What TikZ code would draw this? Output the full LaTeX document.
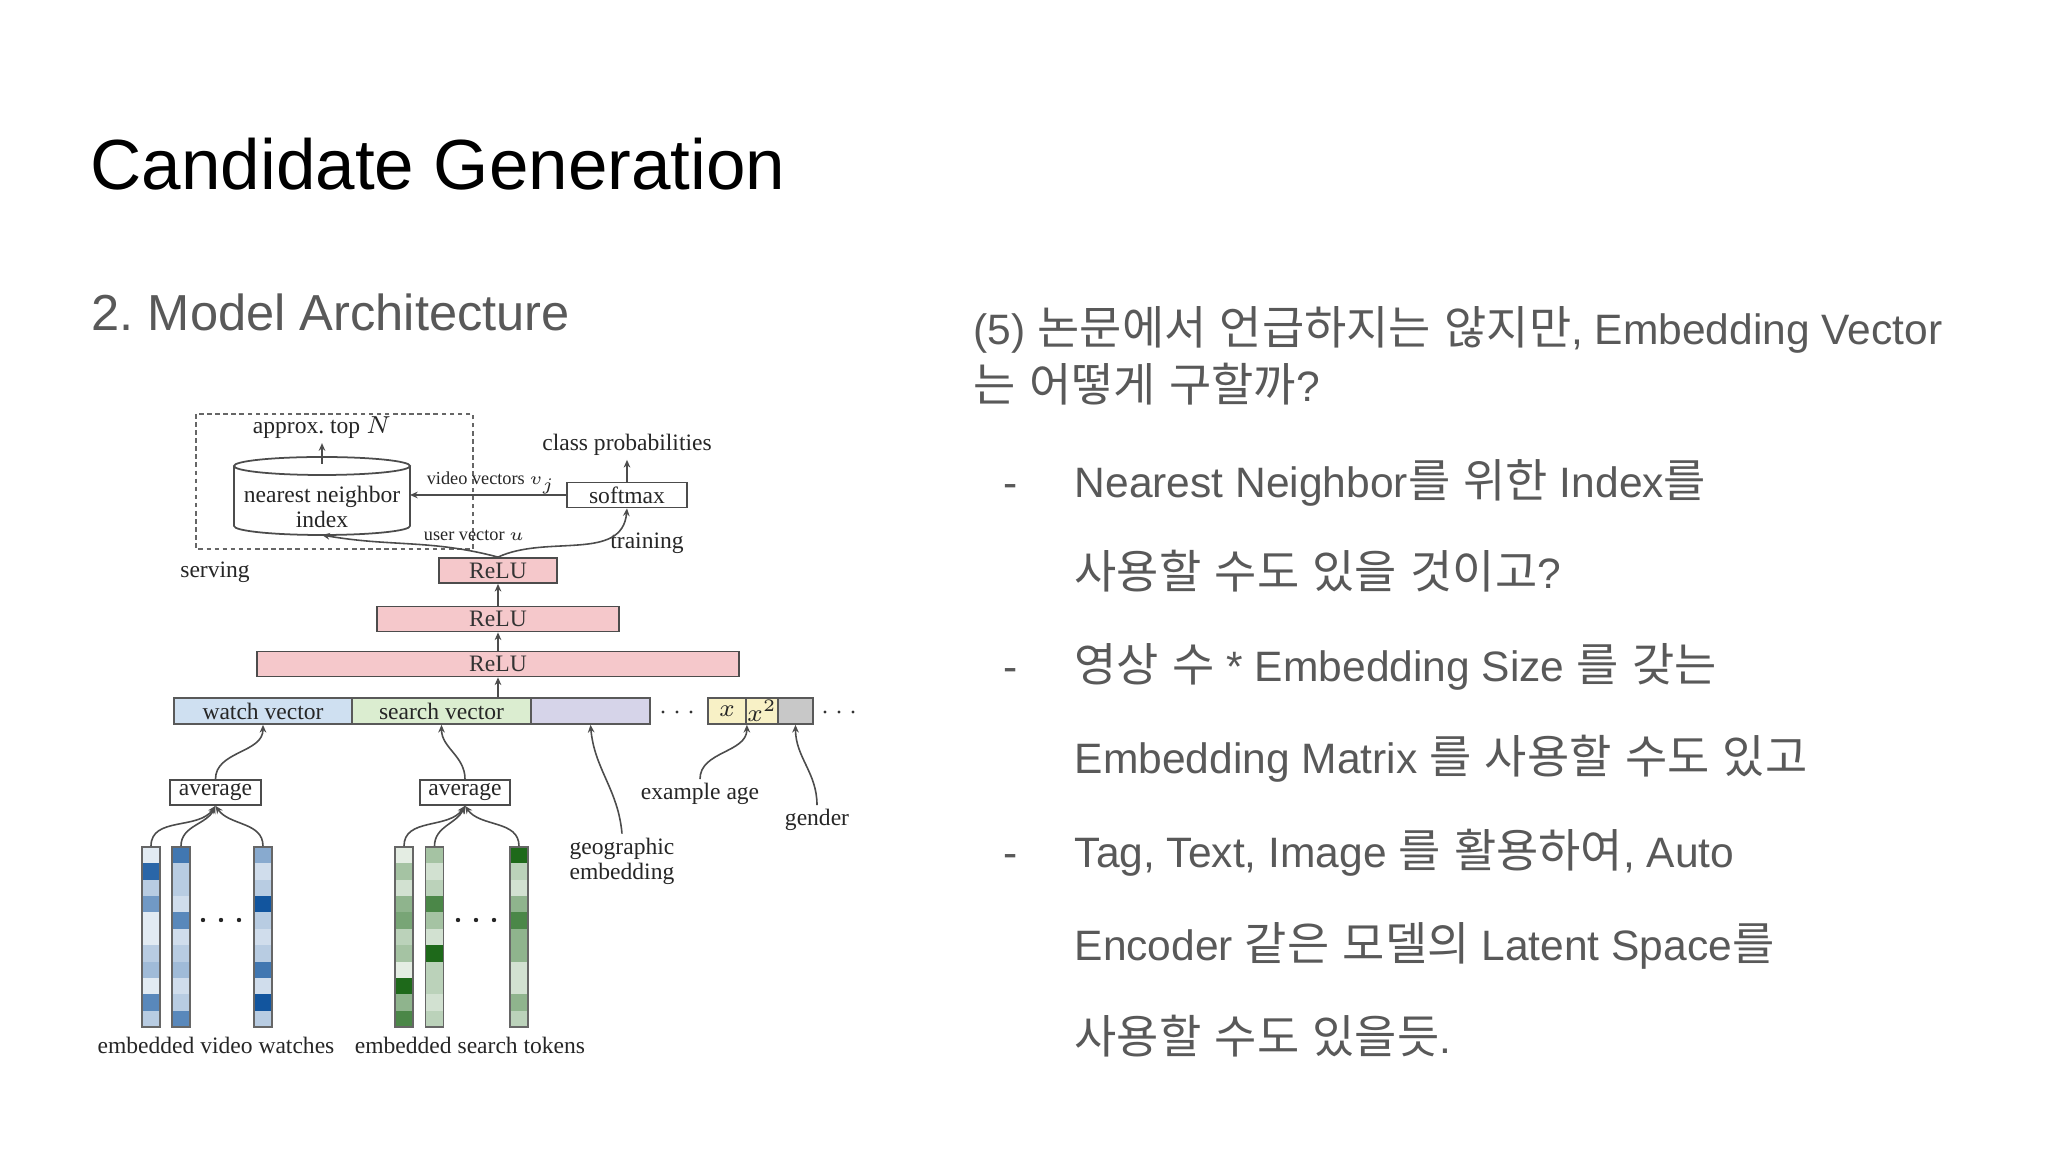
\documentclass[tikz,border=0pt]{standalone}
\usepackage{fontspec}
\newfontfamily\slide{Liberation Sans}
\newfontfamily\kr[Scale=1.08, WordSpace=1.3]{Noto Sans CJK KR}
\newfontfamily\diagserif{Liberation Serif}
\usetikzlibrary{arrows.meta}
\frenchspacing

\definecolor{txtgray}{RGB}{89,89,89}
\definecolor{relupink}{RGB}{245,200,203}
\definecolor{watchblue}{RGB}{207,224,241}
\definecolor{searchgreen}{RGB}{219,237,208}
\definecolor{geolilac}{RGB}{214,212,233}
\definecolor{ageyellow}{RGB}{248,241,198}
\definecolor{gendergray}{RGB}{200,200,200}
\definecolor{vblue}{RGB}{18,85,158}
\definecolor{vgreen}{RGB}{30,105,26}

\newcommand{\diagfont}{\diagserif\fontsize{6.7}{7.1}\selectfont}
\newcommand{\tinyfont}{\diagserif\fontsize{5.2}{6}\selectfont}

\tikzset{
	slidetitle/.style={anchor=base west, inner sep=0pt, font=\slide\fontsize{20.2}{24}\selectfont},
	slidesub/.style={anchor=base west, inner sep=0pt, text=txtgray, font=\slide\fontsize{14.4}{17}\selectfont},
	slidetxt/.style={anchor=base west, inner sep=0pt, text=txtgray, font=\slide\fontsize{12.1}{14.5}\selectfont},
	lbl/.style={inner sep=1pt, text=black!85, font=\diagfont},
	tinylbl/.style={inner sep=0.5pt, text=black!85, font=\tinyfont},
	relubox/.style={draw=black!70, fill=relupink, line width=0.5pt, inner sep=0pt, minimum height=0.25cm, text=black!80, font=\diagfont},
	vecbox/.style={draw=black!65, line width=0.5pt, inner sep=0pt, minimum height=0.26cm, text=black!85, font=\diagfont},
	plainbox/.style={draw=black!70, fill=white, line width=0.5pt, inner sep=0pt, minimum height=0.25cm, text=black!85, font=\diagfont},
	embbar/.style={draw=black!60, line width=0.5pt, inner sep=0pt, minimum width=0.18cm, minimum height=1.8cm},
	diagline/.style={black!70, line width=0.5pt},
	link/.style={black!70, line width=0.45pt, -{Stealth[length=2.2pt,width=1.9pt]}}
}

\begin{document}
\begin{tikzpicture}[x=0.1mm, y=0.1mm]
	\useasboundingbox (0,0) rectangle (2048,-1152);
	\fill[white] (0,0) rectangle (2048,-1152);

% slide text
	\node[slidetitle] (title) at (90,-190) {Candidate Generation};
	\node[slidesub] (sub) at (91,-331) {2. Model Architecture};

	\node[slidetxt] (q1) at (973,-345) {(5) {\kr 논문에서 언급하지는 않지만}, Embedding Vector};
	\node[slidetxt] (q2) at (973,-402) {{\kr 는 어떻게 구할까}?};

	\node[slidetxt] (d1) at (1003,-498) {-};
	\node[slidetxt] (b1) at (1074,-498) {Nearest Neighbor{\kr 를 위한} Index{\kr 를}};
	\node[slidetxt] (b1b) at (1074,-589) {{\kr 사용할 수도 있을 것이고}?};
	\node[slidetxt] (d2) at (1003,-682) {-};
	\node[slidetxt] (b2) at (1074,-682) {{\kr 영상 수} * Embedding Size {\kr 를 갖는}};
	\node[slidetxt] (b2b) at (1074,-774) {Embedding Matrix {\kr 를 사용할 수도 있고}};
	\node[slidetxt] (d3) at (1003,-868) {-};
	\node[slidetxt] (b3) at (1074,-868) {Tag, Text, Image {\kr 를 활용하여}, Auto};
	\node[slidetxt] (b3b) at (1074,-961) {Encoder {\kr 같은 모델의} Latent Space{\kr 를}};
	\node[slidetxt] (b3c) at (1074,-1054) {{\kr 사용할 수도 있을듯}.};

% serving box + index
	\draw[dashed, black!60, line width=0.45pt, dash pattern=on 1.3pt off 1pt] (196,-414) rectangle (473,-549);

	\draw[diagline] (234,-466) -- (234,-526) arc [start angle=180, end angle=360, x radius=88, y radius=9] -- (410,-466);
	\draw[diagline] (322,-466) ellipse [x radius=88, y radius=9];
	\node[lbl, align=center] (nnidx) at (322,-507) {nearest neighbor\\index};
	\coordinate (cyltop) at (322,-464);
	\coordinate (cylbot) at (322,-535);
	\coordinate (cylright) at (410,-495);

	\node[lbl] (topn) at (322,-428) {approx. top $N$};
	\node[lbl] (classp) at (627,-445) {class probabilities};
	\node[plainbox, minimum width=1.2cm] (softmax) at (627,-495) {softmax};
	\node[tinylbl] (vvec) at (491,-483) {video vectors $v_j$};
	\node[tinylbl] (uvec) at (474,-535) {user vector $u$};
	\node[lbl] (train) at (647,-543) {training};
	\node[lbl] (serve) at (215,-572) {serving};

% hidden layers
	\node[relubox, minimum width=1.18cm] (relu1) at (498,-570.5) {ReLU};
	\node[relubox, minimum width=2.42cm] (relu2) at (498,-619) {ReLU};
	\node[relubox, minimum width=4.82cm] (relu3) at (498,-664) {ReLU};

% input vector
	\node[vecbox, fill=watchblue, minimum width=1.78cm] (watch) at (263,-711) {watch vector};
	\node[vecbox, fill=searchgreen, minimum width=1.79cm] (search) at (441.5,-711) {search vector};
	\node[vecbox, fill=geolilac, minimum width=1.19cm] (geo) at (590.5,-711) {};
	\node[vecbox, fill=ageyellow, minimum width=0.38cm] (agex) at (727,-711) {$x$};
	\node[vecbox, fill=ageyellow, minimum width=0.32cm] (agex2) at (762,-711) {$x^2$};
	\node[vecbox, fill=gendergray, minimum width=0.35cm] (gend) at (795.5,-711) {};
	\foreach \d in {663,677,691,825,839,853}
		\fill[black!80] (\d,-712) circle (1.7);

% links top part
	\draw[link] (cyltop) -- (topn.south);
	\draw[link] (softmax.north) -- (classp.south);
	\draw[link] (softmax.west) -- (cylright);
	\draw[link] (relu1.north) to[out=165, in=-10] (cylbot);
	\draw[link] (relu1.north) to[out=25, in=-95] (softmax.south);
	\draw[link] (relu2.north) -- (relu1.south);
	\draw[link] (relu3.north) -- (relu2.south);
	\draw[link] (search.north -| relu3.south) -- (relu3.south);

% averages + side features
	\node[plainbox, minimum width=0.91cm] (avgw) at (215.5,-792.5) {average};
	\node[plainbox, minimum width=0.90cm] (avgs) at (465,-792.5) {average};
	\node[lbl, align=left] (geolbl) at (622,-861) {geographic\\embedding};
	\node[lbl] (agelbl) at (700,-794) {example age};
	\node[lbl] (genlbl) at (817,-820) {gender};

	\draw[link] (avgw.north) to[out=90, in=-90] (watch.south);
	\draw[link] (avgs.north) to[out=90, in=-90] (search.south);
	\draw[link] (geolbl.north) to[out=95, in=-85] (geo.south);
	\draw[link] (agelbl.north) to[out=90, in=-90] (agex.south east);
	\draw[link] (genlbl.north) to[out=90, in=-90] (gend.south);

% embedding columns
	\foreach \xl/\col/\shades in {
		142/vblue/{12,90,30,60,12,12,30,40,12,70,30},
		172/vblue/{80,30,30,20,70,20,30,40,20,30,70},
		254/vblue/{50,20,30,100,30,20,30,80,20,100,30},
		395/vgreen/{12,40,20,50,60,30,40,12,100,50,80},
		425.5/vgreen/{40,20,30,80,40,20,100,30,30,20,30},
		510/vgreen/{100,30,20,50,80,50,50,20,20,50,30}}
		\foreach \s [count=\k from 0] in \shades
			\fill[\col!\s!white] (\xl,{-847-\k*16.36}) rectangle ++(18,-16.36);

	\node[embbar] (vw1) at (151,-937) {};
	\node[embbar] (vw2) at (181,-937) {};
	\node[embbar] (vw3) at (263,-937) {};
	\node[embbar] (st1) at (404,-937) {};
	\node[embbar] (st2) at (434.5,-937) {};
	\node[embbar] (st3) at (519,-937) {};
	\foreach \d in {203,221,239,458,476,494}
		\fill[black!85] (\d,-920) circle (2.2);

	\draw[link] (vw1.north) to[out=90, in=-125] (avgw.south);
	\draw[link] (vw2.north) to[out=90, in=-115] (avgw.south);
	\draw[link] (vw3.north) to[out=90, in=-55] (avgw.south);
	\draw[link] (st1.north) to[out=90, in=-125] (avgs.south);
	\draw[link] (st2.north) to[out=90, in=-115] (avgs.south);
	\draw[link] (st3.north) to[out=90, in=-55] (avgs.south);

	\node[lbl] (vwcap) at (216,-1045) {embedded video watches};
	\node[lbl] (stcap) at (470,-1045) {embedded search tokens};

\end{tikzpicture}
\end{document}
